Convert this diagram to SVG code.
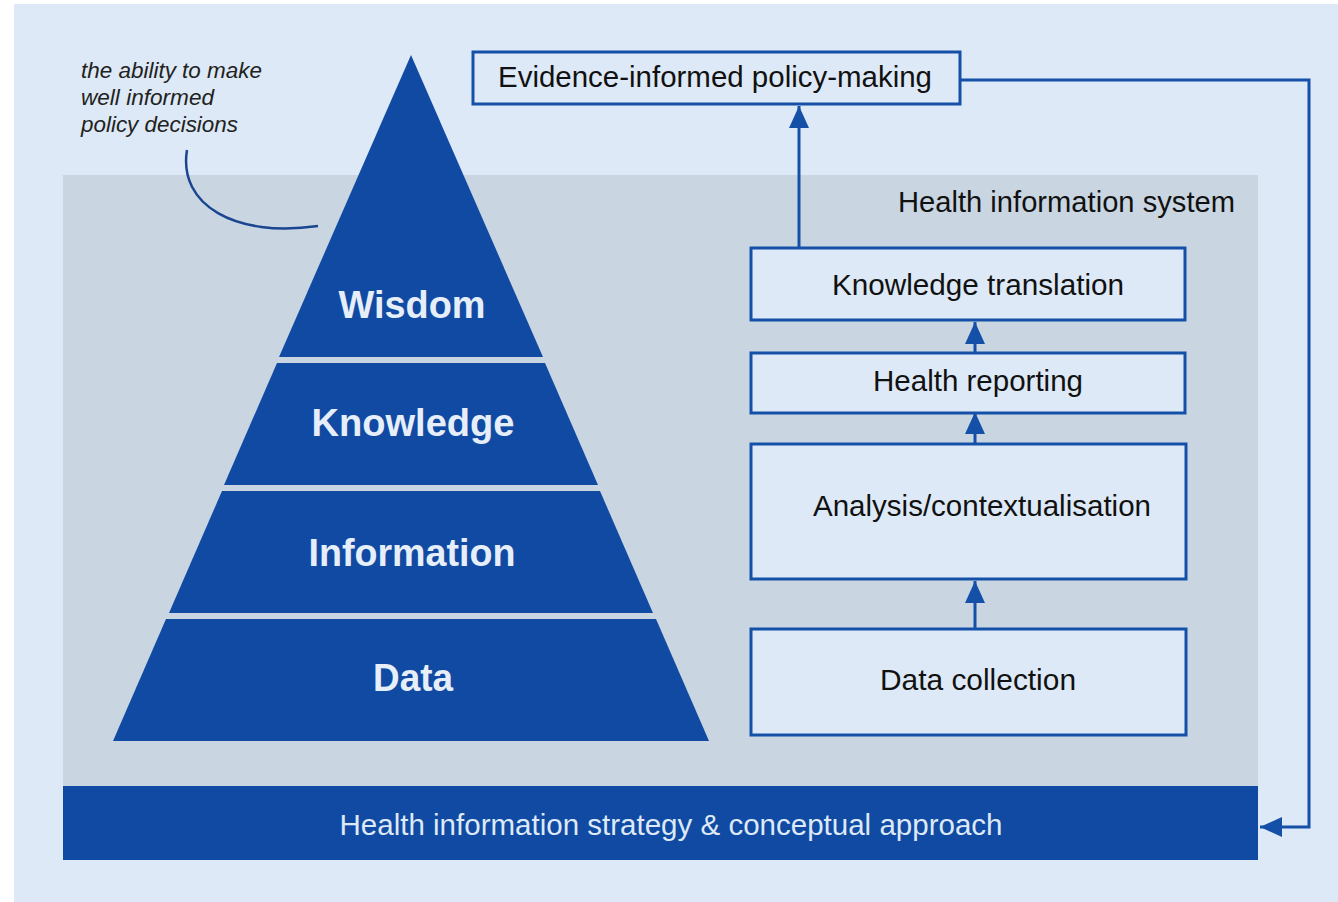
<svg xmlns="http://www.w3.org/2000/svg" width="1338" height="902" viewBox="0 0 1338 902">
<defs>
<style>
.box{fill:#dde9f6;stroke:#1550a8;stroke-width:3}
.lbl{font-family:"Liberation Sans",Arial,sans-serif;font-size:29px;fill:#111;text-anchor:middle}
.layer{fill:#114aa3}
.lay{font-family:"Liberation Sans",Arial,sans-serif;font-size:38px;font-weight:bold;fill:#e6eef9;text-anchor:middle}
.con{fill:none;stroke:#1550a8;stroke-width:3}
</style>
<marker id="ah" viewBox="0 0 24 20" refX="22" refY="10" markerWidth="24" markerHeight="20" markerUnits="userSpaceOnUse" orient="auto">
<path d="M0,0 L22,10 L0,20 Z" fill="#1550a8"/>
</marker>
</defs>
<rect x="0" y="0" width="1338" height="902" fill="#ffffff"/>
<rect x="14" y="4" width="1324" height="898" fill="#dde9f6"/>
<g id="his">
<rect x="63" y="175" width="1195" height="611" fill="#c9d6e2"/>
<text x="1235" y="212" font-family="'Liberation Sans',Arial,sans-serif" font-size="29" fill="#111" text-anchor="end" textLength="337" lengthAdjust="spacingAndGlyphs">Health information system</text>
</g>
<g id="strategy">
<rect x="63" y="786" width="1195" height="74" fill="#114aa3"/>
<text x="671" y="835" font-family="'Liberation Sans',Arial,sans-serif" font-size="29" fill="#dde9f6" text-anchor="middle" textLength="663" lengthAdjust="spacingAndGlyphs">Health information strategy &amp; conceptual approach</text>
</g>
<g id="annotation">
<text font-family="'Liberation Sans',Arial,sans-serif" font-size="22" font-style="italic" fill="#222">
<tspan x="81" y="78" textLength="181" lengthAdjust="spacingAndGlyphs">the ability to make</tspan>
<tspan x="81" y="105" textLength="133" lengthAdjust="spacingAndGlyphs">well informed</tspan>
<tspan x="81" y="132" textLength="157" lengthAdjust="spacingAndGlyphs">policy decisions</tspan>
</text>
<path d="M187,150 C178,205 235,238 318,226" fill="none" stroke="#1a4590" stroke-width="2.5"/>
</g>
<g id="wisdom">
<polygon class="layer" points="411,55 543,357 279,357"/>
<text class="lay" x="412" y="318" textLength="147" lengthAdjust="spacingAndGlyphs">Wisdom</text>
</g>
<g id="knowledge">
<polygon class="layer" points="277,363 545,363 598,485 224,485"/>
<text class="lay" x="413" y="436" textLength="203" lengthAdjust="spacingAndGlyphs">Knowledge</text>
</g>
<g id="information">
<polygon class="layer" points="222,491 600,491 653,613 169,613"/>
<text class="lay" x="412" y="566" textLength="207" lengthAdjust="spacingAndGlyphs">Information</text>
</g>
<g id="data">
<polygon class="layer" points="166,619 656,619 709,741 113,741"/>
<text class="lay" x="413" y="691" textLength="80" lengthAdjust="spacingAndGlyphs">Data</text>
</g>
<g id="evidence">
<rect class="box" x="473" y="52" width="487" height="52"/>
<text class="lbl" x="715" y="87" textLength="434" lengthAdjust="spacingAndGlyphs">Evidence-informed policy-making</text>
</g>
<g id="knowledge-translation">
<rect class="box" x="751" y="248" width="434" height="72"/>
<text class="lbl" x="978" y="295" textLength="292" lengthAdjust="spacingAndGlyphs">Knowledge translation</text>
</g>
<g id="health-reporting">
<rect class="box" x="751" y="353" width="434" height="60"/>
<text class="lbl" x="978" y="391" textLength="210" lengthAdjust="spacingAndGlyphs">Health reporting</text>
</g>
<g id="analysis">
<rect class="box" x="751" y="444" width="435" height="135"/>
<text class="lbl" x="982" y="516" textLength="338" lengthAdjust="spacingAndGlyphs">Analysis/contextualisation</text>
</g>
<g id="data-collection">
<rect class="box" x="751" y="629" width="435" height="106"/>
<text class="lbl" x="978" y="690" textLength="196" lengthAdjust="spacingAndGlyphs">Data collection</text>
</g>
<g id="connectors">
<path class="con" d="M799,248 L799,106" marker-end="url(#ah)"/>
<path class="con" d="M975,353 L975,322" marker-end="url(#ah)"/>
<path class="con" d="M975,444 L975,412" marker-end="url(#ah)"/>
<path class="con" d="M975,629 L975,581" marker-end="url(#ah)"/>
<path class="con" d="M960,80 L1309,80 L1309,827 L1260,827" marker-end="url(#ah)"/>
</g>
</svg>
